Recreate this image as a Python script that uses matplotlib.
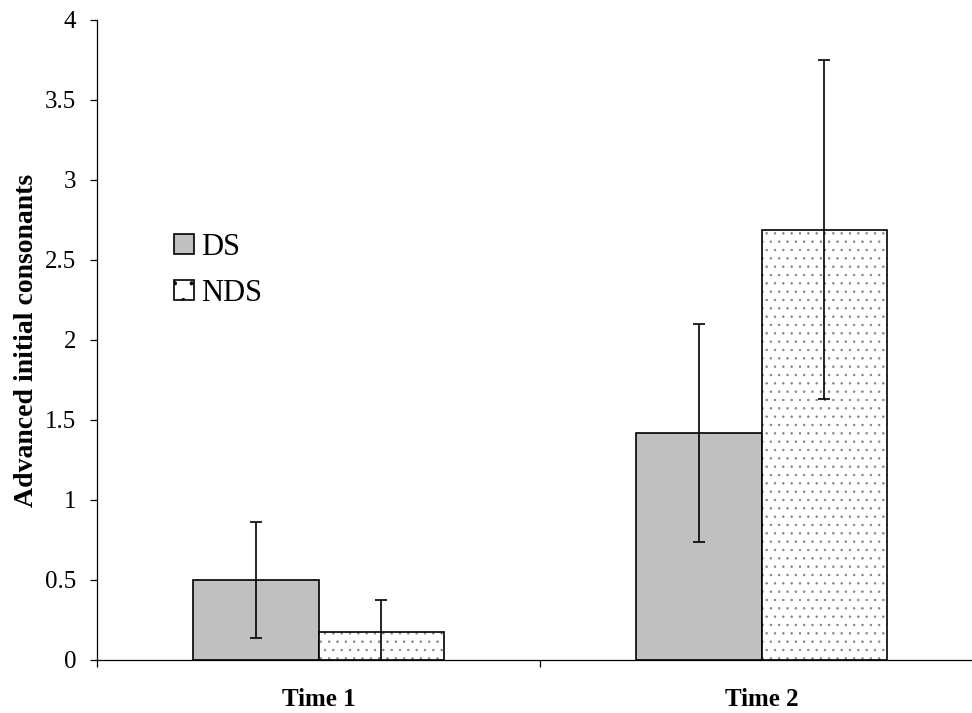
import matplotlib
matplotlib.use("Agg")
import matplotlib.pyplot as plt
from matplotlib.patches import Patch
import numpy as np

categories = ["Time 1", "Time 2"]
series = ["DS", "NDS"]
ds_means = [0.50, 1.42]
ds_err = [0.36, 0.68]
nds_means = [0.175, 2.69]
nds_err = [0.20, 1.06]
yticks = [0, 0.5, 1, 1.5, 2, 2.5, 3, 3.5, 4]
ytick_labels = ["0", "0.5", "1", "1.5", "2", "2.5", "3", "3.5", "4"]

plt.rcParams['font.family'] = ['Liberation Serif', 'DejaVu Serif']
plt.rcParams['hatch.linewidth'] = 0.5
plt.rcParams['hatch.color'] = '#808080'

fig = plt.figure(figsize=(9.72, 7.13), dpi=100)
W, H = 972, 713
ax = fig.add_axes([97 / W, (H - 660) / H, (983 - 97) / W, 640 / H])

x = np.arange(len(categories))
bw = 0.284

# DS bars
ax.bar(x - bw / 2, ds_means, bw, color='#c0c0c0', edgecolor='black', linewidth=1.2, zorder=2)
# NDS bars: dotted fill layer + outline
ax.bar(x + bw / 2, nds_means, bw, color='white', edgecolor='#808080', hatch='..', linewidth=0, zorder=2)
ax.bar(x + bw / 2, nds_means, bw, fill=False, edgecolor='black', linewidth=1.2, zorder=3)

ax.errorbar(x - bw / 2, ds_means, yerr=ds_err, fmt='none', ecolor='black', elinewidth=1.2,
            capsize=4, capthick=1.2, zorder=4)
ax.errorbar(x + bw / 2, nds_means, yerr=nds_err, fmt='none', ecolor='black', elinewidth=1.2,
            capsize=4, capthick=1.2, zorder=4)

ax.set_xlim(-0.5, 1.5)
ax.set_ylim(0, 4)
ax.set_yticks(yticks)
ax.set_yticklabels(ytick_labels, fontsize=18)
ax.set_xticks([-0.5, 0.5, 1.5])
ax.set_xticklabels([])
ax.set_xticks(x, minor=True)
ax.set_xticklabels(categories, minor=True, fontsize=18, fontweight='bold')
ax.tick_params(axis='x', which='minor', length=0, pad=20)
ax.tick_params(axis='x', which='major', direction='out', length=5, width=0.9)
ax.tick_params(axis='y', direction='out', length=5, width=0.9, pad=10)
for s in ['top', 'right']:
    ax.spines[s].set_visible(False)
for s in ['left', 'bottom']:
    ax.spines[s].set_linewidth(0.9)

ax.set_ylabel("Advanced initial consonants", fontsize=20, fontweight='bold', labelpad=4)

handles = [Patch(facecolor='#c0c0c0', edgecolor='black', linewidth=1.2),
           Patch(facecolor='white', edgecolor='black', linewidth=1.2, hatch='.')]
leg = ax.legend(handles, series, loc='upper left',
                bbox_to_anchor=((174 - 97) / 886, (660 - 233) / 640),
                frameon=False, fontsize=22, handlelength=0.65, handleheight=0.65,
                handletextpad=0.25, labelspacing=0.55, borderpad=0, borderaxespad=0)

fig.savefig("out.png", dpi=100)
